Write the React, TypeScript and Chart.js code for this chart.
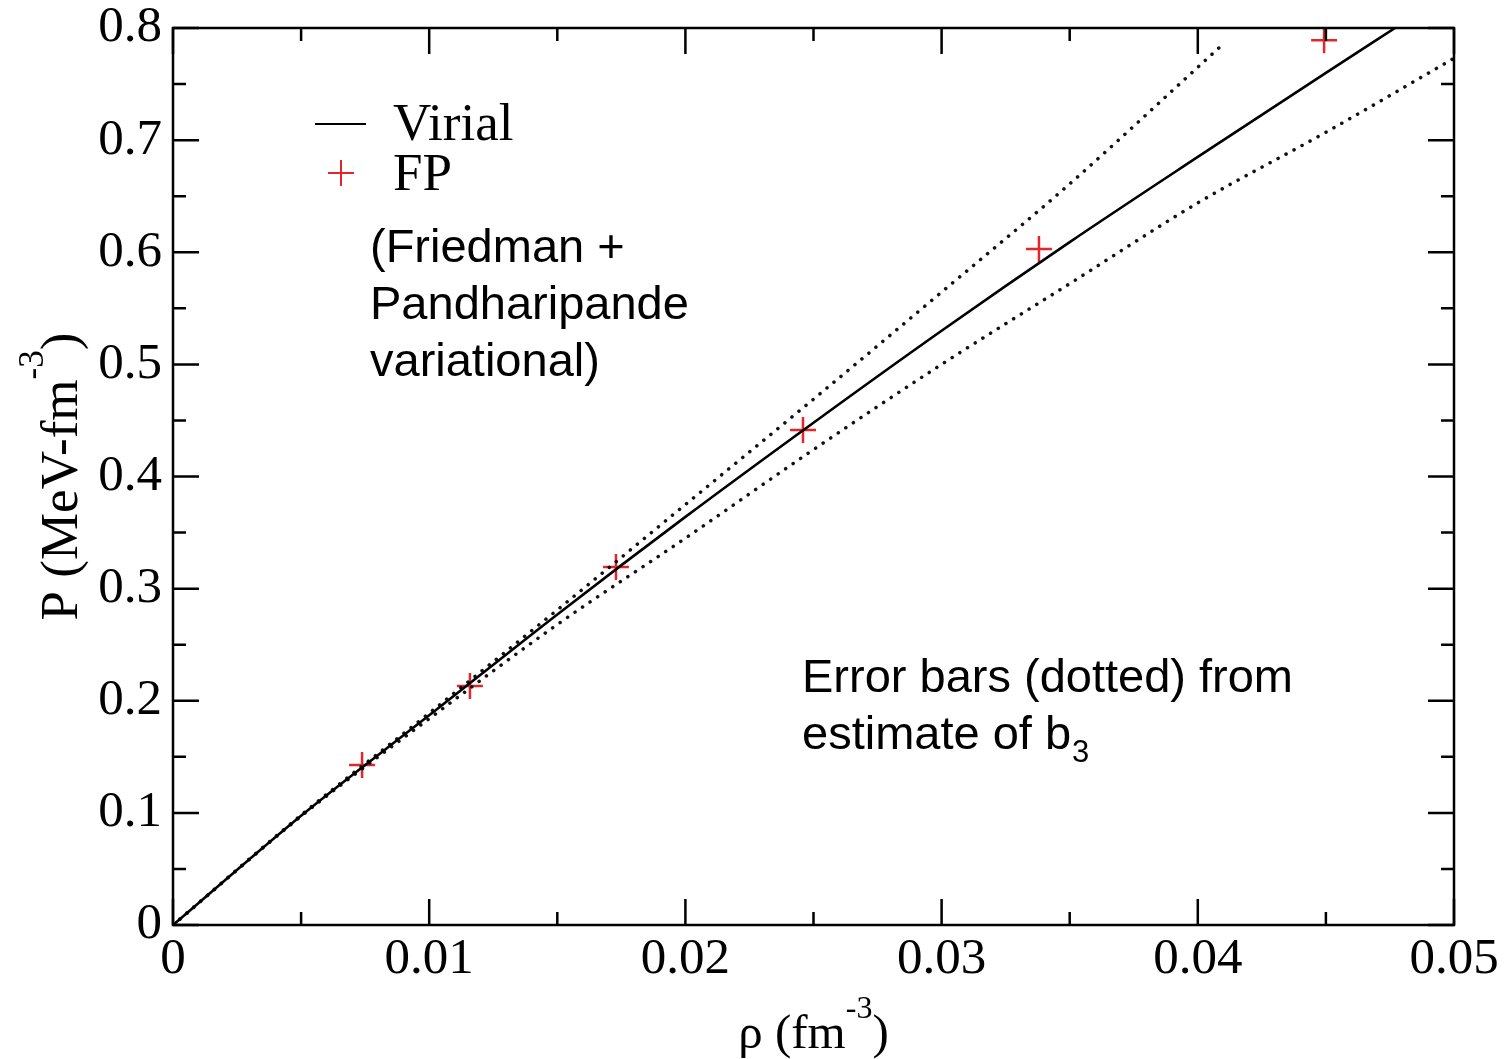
import React, { useEffect, useRef } from 'react';
import { Chart, registerables } from 'chart.js';

Chart.register(...registerables);

// ---- data ----
const rhoVirial = [0, 0.005, 0.01, 0.015, 0.02, 0.025, 0.03, 0.035, 0.04, 0.045, 0.0477];
const pVirial = [0, 0.0975, 0.187, 0.277, 0.364, 0.448, 0.53, 0.609, 0.685, 0.76, 0.8];

const rhoUpper = [0, 0.005, 0.01, 0.015, 0.02, 0.025, 0.03, 0.035, 0.04, 0.041];
const pUpper = [0, 0.098, 0.189, 0.281, 0.375, 0.469, 0.5645, 0.661, 0.765, 0.786];

const rhoLower = [0, 0.005, 0.01, 0.015, 0.02, 0.025, 0.03, 0.035, 0.04, 0.045, 0.05];
const pLower = [0, 0.097, 0.184, 0.268, 0.345, 0.424, 0.5, 0.572, 0.644, 0.707, 0.773];

const rhoFP = [0.00738, 0.01159, 0.01729, 0.02459, 0.0338, 0.04493];
const pFP = [0.1427, 0.2132, 0.3193, 0.4415, 0.603, 0.789];

const xTickLabels = ['0', '0.01', '0.02', '0.03', '0.04', '0.05'];
const yTickLabels = ['0', '0.1', '0.2', '0.3', '0.4', '0.5', '0.6', '0.7', '0.8'];
const xMajor = [0, 0.01, 0.02, 0.03, 0.04, 0.05];
const xMinor = [0.005, 0.015, 0.025, 0.035, 0.045];
const yMajor = [0, 0.1, 0.2, 0.3, 0.4, 0.5, 0.6, 0.7, 0.8];
const yMinor = [0.05, 0.15, 0.25, 0.35, 0.45, 0.55, 0.65, 0.75];

const legendLabels = ['Virial', 'FP'];
const noteFP = ['(Friedman +', 'Pandharipande', 'variational)'];
const noteErr1 = 'Error bars (dotted) from';
const noteErr2 = 'estimate of b';
const noteErrSub = '3';

const SERIF = '"Liberation Serif", "Times New Roman", serif';
const SANS = '"Liberation Sans", Arial, sans-serif';
const RED = '#e3262b';

const toPts = (xs: number[], ys: number[]) => xs.map((x, i) => ({ x, y: ys[i] }));

function drawSupText(
  ctx: CanvasRenderingContext2D,
  parts: { t: string; sup?: boolean }[],
  cx: number,
  baseY: number,
  size: number,
  supSize: number,
  raise: number
) {
  let total = 0;
  for (const p of parts) {
    ctx.font = `${p.sup ? supSize : size}px ${SERIF}`;
    total += ctx.measureText(p.t).width;
  }
  let x = cx - total / 2;
  ctx.textAlign = 'left';
  ctx.textBaseline = 'alphabetic';
  for (const p of parts) {
    ctx.font = `${p.sup ? supSize : size}px ${SERIF}`;
    ctx.fillText(p.t, x, p.sup ? baseY - raise : baseY);
    x += ctx.measureText(p.t).width;
  }
}

const decorPlugin = {
  id: 'decor',
  afterDatasetsDraw(chart: any) {
    const { ctx, chartArea, scales } = chart;
    const xs = scales.x;
    const ys = scales.y;
    const { left, right, top, bottom } = chartArea;
    ctx.save();
    ctx.strokeStyle = '#000';
    ctx.lineWidth = 2.5;
    ctx.lineCap = 'butt';
    // frame
    ctx.strokeRect(left, top, right - left, bottom - top);
    // ticks (inward, all four sides)
    const tick = (v: number, len: number, horiz: boolean) => {
      ctx.beginPath();
      if (horiz) {
        const px = xs.getPixelForValue(v);
        ctx.moveTo(px, bottom);
        ctx.lineTo(px, bottom - len);
        ctx.moveTo(px, top);
        ctx.lineTo(px, top + len);
      } else {
        const py = ys.getPixelForValue(v);
        ctx.moveTo(left, py);
        ctx.lineTo(left + len, py);
        ctx.moveTo(right, py);
        ctx.lineTo(right - len, py);
      }
      ctx.stroke();
    };
    xMajor.forEach((v) => tick(v, 26, true));
    xMinor.forEach((v) => tick(v, 13, true));
    yMajor.forEach((v) => tick(v, 26, false));
    yMinor.forEach((v) => tick(v, 13, false));

    // legend
    ctx.lineWidth = 2;
    ctx.beginPath();
    ctx.moveTo(315, 124);
    ctx.lineTo(366, 124);
    ctx.stroke();
    ctx.strokeStyle = RED;
    ctx.lineWidth = 2;
    ctx.beginPath();
    ctx.moveTo(328, 173);
    ctx.lineTo(354, 173);
    ctx.moveTo(341, 160);
    ctx.lineTo(341, 186);
    ctx.stroke();
    ctx.fillStyle = '#000';
    ctx.font = `53px ${SERIF}`;
    ctx.textAlign = 'left';
    ctx.textBaseline = 'alphabetic';
    ctx.fillText(legendLabels[0], 393, 140);
    ctx.fillText(legendLabels[1], 393, 190);

    // annotations
    ctx.font = `47px ${SANS}`;
    noteFP.forEach((line, i) => ctx.fillText(line, 370, 262 + i * 57));
    ctx.fillText(noteErr1, 802, 692);
    ctx.fillText(noteErr2, 802, 749);
    const w = ctx.measureText(noteErr2).width;
    ctx.font = `31px ${SANS}`;
    ctx.fillText(noteErrSub, 802 + w + 1, 762);

    // axis titles
    drawSupText(ctx, [{ t: 'ρ (fm' }, { t: '-3', sup: true }, { t: ')' }], (left + right) / 2, 1048, 49, 32, 30);
    ctx.translate(77, (top + bottom) / 2);
    ctx.rotate(-Math.PI / 2);
    drawSupText(ctx, [{ t: 'P (MeV-fm' }, { t: '-3', sup: true }, { t: ')' }], 0, 0, 53, 35, 34);
    ctx.restore();
  },
};

export default function App() {
  const ref = useRef<HTMLCanvasElement | null>(null);
  useEffect(() => {
    if (!ref.current) return;
    const chart = new Chart(ref.current, {
      type: 'scatter',
      data: {
        datasets: [
          {
            label: 'Virial',
            data: toPts(rhoVirial, pVirial),
            showLine: true,
            borderColor: '#000',
            borderWidth: 2.6,
            pointRadius: 0,
            cubicInterpolationMode: 'monotone',
          },
          {
            label: 'upper',
            data: toPts(rhoUpper, pUpper),
            showLine: true,
            borderColor: '#111',
            borderWidth: 3.5,
            borderDash: [0.1, 9],
            borderCapStyle: 'round',
            pointRadius: 0,
            cubicInterpolationMode: 'monotone',
          },
          {
            label: 'lower',
            data: toPts(rhoLower, pLower),
            showLine: true,
            borderColor: '#111',
            borderWidth: 3.5,
            borderDash: [0.1, 9],
            borderCapStyle: 'round',
            pointRadius: 0,
            cubicInterpolationMode: 'monotone',
          },
          {
            label: 'FP',
            data: toPts(rhoFP, pFP),
            showLine: false,
            pointStyle: 'cross',
            pointRadius: 13,
            borderColor: RED,
            backgroundColor: RED,
            pointBorderWidth: 2.5,
          },
        ],
      },
      options: {
        animation: false,
        responsive: false,
        devicePixelRatio: 1,
        layout: { padding: { top: 28, right: 57, left: 0, bottom: 0 }, autoPadding: false },
        plugins: { legend: { display: false }, tooltip: { enabled: false } },
        scales: {
          x: {
            type: 'linear',
            min: 0,
            max: 0.05,
            grid: { display: false, drawTicks: false },
            border: { display: false },
            ticks: {
              stepSize: 0.01,
              padding: 4,
              color: '#000',
              font: { family: SERIF, size: 51 },
              maxRotation: 0,
              callback: (_v: any, i: number) => xTickLabels[i],
            },
            afterFit: (s: any) => {
              s.height = 134;
              s.paddingLeft = 0;
              s.paddingRight = 0;
              s.paddingTop = 0;
              s.paddingBottom = 0;
            },
          },
          y: {
            type: 'linear',
            min: 0,
            max: 0.8,
            grid: { display: false, drawTicks: false },
            border: { display: false },
            ticks: {
              stepSize: 0.1,
              padding: 11,
              color: '#000',
              font: { family: SERIF, size: 51 },
              callback: (_v: any, i: number) => yTickLabels[i],
            },
            afterFit: (s: any) => {
              s.width = 173;
              s.paddingLeft = 0;
              s.paddingRight = 0;
              s.paddingTop = 0;
              s.paddingBottom = 0;
            },
          },
        },
      },
      plugins: [decorPlugin],
    } as any);
    return () => chart.destroy();
  }, []);
  return (
    <div style={{ position: 'absolute', left: 0, top: 0, width: 1511, height: 1059, background: '#fff' }}>
      <canvas ref={ref} width={1511} height={1059} />
    </div>
  );
}
